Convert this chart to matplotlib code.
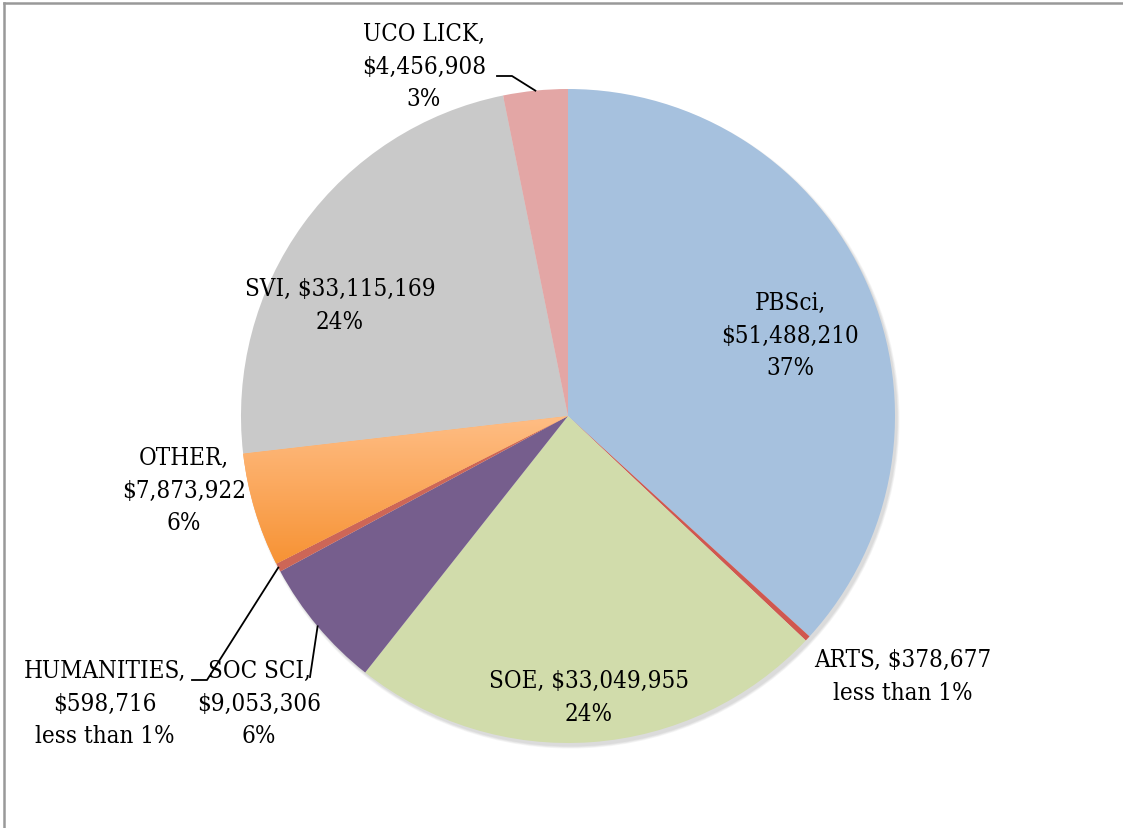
import numpy as np
import matplotlib.pyplot as plt
from matplotlib.lines import Line2D
from matplotlib.colors import LinearSegmentedColormap
from matplotlib import font_manager

# ---- data ----------------------------------------------------------------
names = ["PBSci", "ARTS", "SOE", "SOC SCI", "HUMANITIES", "OTHER", "SVI", "UCO LICK"]
amounts = [51488210, 378677, 33049955, 9053306, 598716, 7873922, 33115169, 4456908]
pct_text = ["37%", "less than 1%", "24%", "6%", "less than 1%", "6%", "24%", "3%"]
colors = ["#A6C1DE", "#D0574F", "#D1DCAB", "#765E8D", "#CD6657", "#F9A25A", "#C9C9C9", "#E3A6A5"]

W, H = 1123, 829
CX, CY, R = 568, H - 417, 327

# condensed serif if available (closer to the original's narrow serif face)
cond = [f for f in font_manager.fontManager.ttflist
        if f.name == "DejaVu Serif" and "Condensed" in f.fname and "Bold" not in f.fname
        and "Italic" not in f.fname]
if cond:
    family, stretch, fs, lsp = "DejaVu Serif", "condensed", 17.3, 1.52
else:
    family, stretch, fs, lsp = "Liberation Serif", "normal", 19.5, 1.32
plt.rcParams["font.family"] = [family, "Liberation Serif"]

fig = plt.figure(figsize=(W / 100, H / 100), dpi=100)
ax = fig.add_axes([0, 0, 1, 1])

# soft shadow under the pie (mostly bottom-right)
for k in range(4):
    ax.add_patch(plt.Circle((CX + 2.5, CY - 3.5), R + k * 0.7, color="black",
                            alpha=0.035, lw=0, zorder=0))

wedges, _ = ax.pie(amounts, startangle=90, counterclock=False, colors=colors,
                   center=(CX, CY), radius=R, wedgeprops=dict(linewidth=0))
for w in wedges:
    w.set_zorder(1)

# OTHER slice: vertical orange gradient clipped to the wedge
other = wedges[names.index("OTHER")]
grad = np.linspace(0, 1, 256).reshape(-1, 1)
cmap = LinearSegmentedColormap.from_list("og", ["#F79233", "#FFC08A"])
img = ax.imshow(grad, cmap=cmap, origin="lower", aspect="auto",
                extent=(CX - R, CX, CY - 150, CY + 10), zorder=2)
img.set_clip_path(other)

ax.set_xlim(0, W)
ax.set_ylim(0, H)
ax.axis("off")

# ---- labels ---------------------------------------------------------------
def money(v):
    return "${:,}".format(v)

def edge_point(i):
    w = wedges[i]
    a = np.deg2rad((w.theta1 + w.theta2) / 2)
    return CX + R * np.cos(a), CY + R * np.sin(a)

lab = {}
lab["PBSci"] = ("PBSci,\n{}\n{}", 790, 336)
lab["ARTS"] = ("ARTS, {}\n{}", 903, 677)
lab["SOE"] = ("SOE, {}\n{}", 589, 698)
lab["SOC SCI"] = ("SOC SCI,\n{}\n{}", 259, 704)
lab["HUMANITIES"] = ("HUMANITIES,\n{}\n{}", 105, 704)
lab["OTHER"] = ("OTHER,\n{}\n{}", 184, 491)
lab["SVI"] = ("SVI, {}\n{}", 340, 306)
lab["UCO LICK"] = ("UCO LICK,\n{}\n{}", 424, 67)

for i, n in enumerate(names):
    fmt, x, y = lab[n]
    ax.text(x, H - y, fmt.format(money(amounts[i]), pct_text[i]), ha="center",
            va="center", fontsize=fs, fontstretch=stretch, linespacing=lsp,
            color="black", zorder=5)

# leader lines
ex, ey = edge_point(names.index("UCO LICK"))
ax.plot([497, 512, ex], [H - 77, H - 77, ey], color="black", lw=1.3, zorder=4)
ex, ey = edge_point(names.index("HUMANITIES"))
ax.plot([192, 207, ex], [H - 681, H - 681, ey], color="black", lw=1.3, zorder=4)
ex, ey = edge_point(names.index("SOC SCI"))
ax.plot([310, ex], [H - 678, ey], color="black", lw=1.3, zorder=4)

# frame lines at top and left
fig.add_artist(Line2D([3.5 / W, 1], [1 - 3.5 / H, 1 - 3.5 / H], color="#999999", lw=1.8))
fig.add_artist(Line2D([3.5 / W, 3.5 / W], [0, 1 - 3.5 / H], color="#999999", lw=1.8))

fig.savefig("out.png", dpi=100)
